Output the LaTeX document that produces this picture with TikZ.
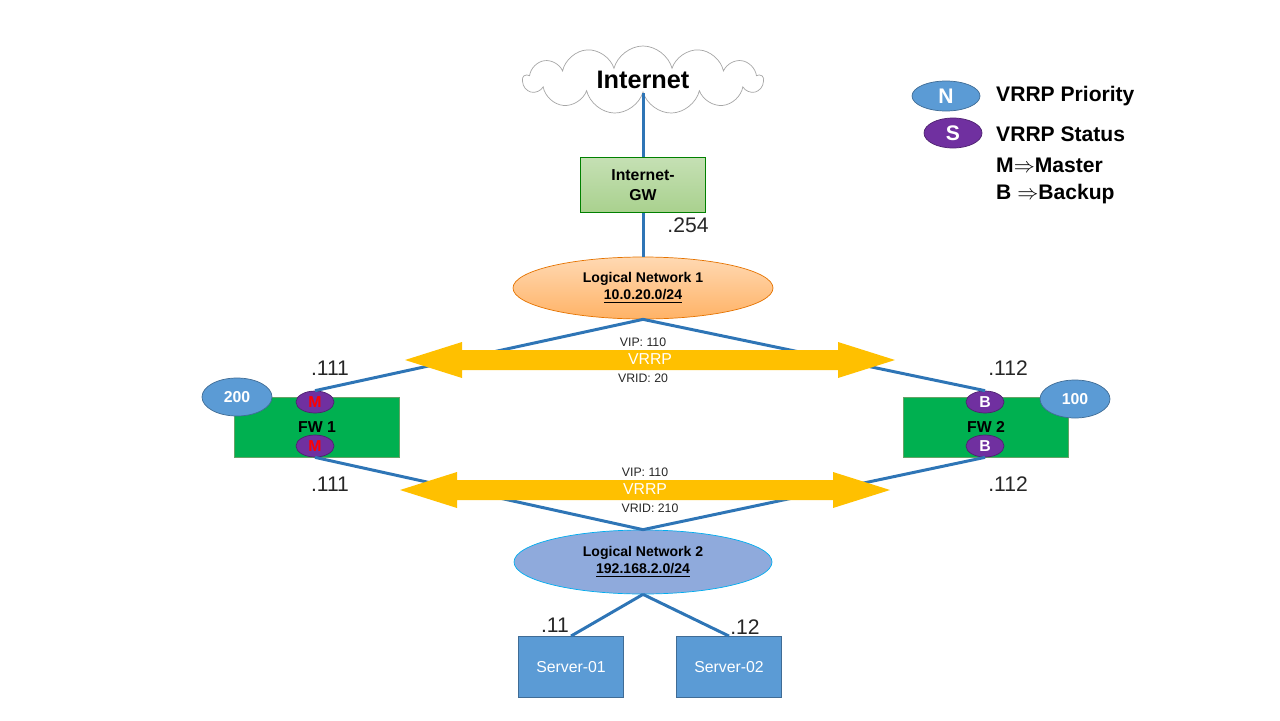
\documentclass[tikz,border=0pt]{standalone}
\usepackage{fontspec}
\setmainfont{Liberation Sans}
\usetikzlibrary{shapes.geometric,shapes.symbols}
\definecolor{linkblue}{HTML}{2E75B6}
\definecolor{vrrpgold}{HTML}{FFC000}
\definecolor{fwgreen}{HTML}{00B050}
\definecolor{prioblue}{HTML}{5B9BD5}
\definecolor{statpurple}{HTML}{7030A0}
\definecolor{gwtop}{HTML}{C5E0B4}
\definecolor{gwbot}{HTML}{A9D18E}
\definecolor{lnfill}{HTML}{8FAADC}
\tikzset{
  link/.style={draw=linkblue, line width=1.7pt},
  prio/.style={ellipse, fill=prioblue, draw=prioblue!70!black, line width=0.4pt, minimum width=70*0.02cm, minimum height=38*0.02cm, inner sep=0pt, text=white, font=\bfseries\small},
  stat/.style={ellipse, fill=statpurple, draw=statpurple!70!black, line width=0.4pt, minimum width=38*0.02cm, minimum height=22*0.02cm, inner sep=0pt, font=\bfseries\small},
  fw/.style={rectangle, fill=fwgreen, draw=green!40!black!60, line width=0.4pt, minimum width=165*0.02cm, minimum height=60*0.02cm, font=\bfseries\small},
  server/.style={rectangle, fill=prioblue, draw=prioblue!70!black, line width=0.5pt, minimum width=105*0.02cm, minimum height=61*0.02cm, text=white, font=\small},
  addr/.style={font=\large, text=black!85},
  vrrptxt/.style={font=\scriptsize, text=black!85},
  legend/.style={anchor=west, font=\bfseries\large},
}
\begin{document}
\begin{tikzpicture}[x=0.02cm, y=-0.02cm]
\useasboundingbox (0,0) rectangle (1280,720);
% cloud and gateway
\node[cloud, cloud puffs=13, aspect=3.6, draw=gray!70, fill=white, minimum width=240*0.02cm, minimum height=68*0.02cm, font=\bfseries\Large] (inet) at (643,80) {Internet};
\node[rectangle, top color=gwtop, bottom color=gwbot, draw=green!50!black, minimum width=125*0.02cm, minimum height=55*0.02cm, align=center, font=\bfseries\small] (gw) at (643,185) {Internet-\\GW};
\node[ellipse, top color=orange!30!white, bottom color=orange!60!white, draw=orange!90!black, minimum width=260*0.02cm, minimum height=62*0.02cm, align=center, font=\bfseries\footnotesize] (ln1) at (643,288) {Logical Network 1\\\underline{10.0.20.0/24}};
\node[ellipse, fill=lnfill, draw=cyan, minimum width=258*0.02cm, minimum height=64*0.02cm, align=center, font=\bfseries\footnotesize] (ln2) at (643,562) {Logical Network 2\\\underline{192.168.2.0/24}};
\draw[link] (inet) -- (gw);
\draw[link] (gw) -- (ln1);
\node[addr] (a254) at (688,225) {.254};
% firewalls
\node[fw] (fw1) at (317,427) {FW 1};
\node[fw] (fw2) at (986,427) {FW 2};
\node[stat, text=red] (m1) at (315,402) {M};
\node[stat, text=red] (m2) at (315,446) {M};
\node[stat, text=white] (b1) at (985,402) {B};
\node[stat, text=white] (b2) at (985,446) {B};
\node[prio] (p200) at (237,397) {200};
\node[prio] (p100) at (1075,399) {100};
\draw[link] (ln1.south) -- (m1.north);
\draw[link] (ln1.south) -- (b1.north);
\draw[link] (m2.south) -- (ln2.north);
\draw[link] (b2.south) -- (ln2.north);
% vrrp arrows
\fill[vrrpgold] (405,360) -- (462,342) -- (462,350) -- (838,350) -- (838,342) -- (895,360) -- (838,378) -- (838,370) -- (462,370) -- (462,378) -- cycle;
\fill[vrrpgold] (400,490) -- (457,472) -- (457,480) -- (833,480) -- (833,472) -- (890,490) -- (833,508) -- (833,500) -- (457,500) -- (457,508) -- cycle;
\node[vrrptxt] (vip1) at (643,342) {VIP: 110};
\node[font=\small, text=white] (vr1) at (650,359) {VRRP};
\node[vrrptxt] (vid1) at (643,378) {VRID: 20};
\node[vrrptxt] (vip2) at (645,472) {VIP: 110};
\node[font=\small, text=white] (vr2) at (645,489) {VRRP};
\node[vrrptxt] (vid2) at (650,508) {VRID: 210};
\node[addr] (a111u) at (330,368) {.111};
\node[addr] (a112u) at (1008,368) {.112};
\node[addr] (a111d) at (330,484) {.111};
\node[addr] (a112d) at (1008,484) {.112};
% servers
\node[server] (srv1) at (571,667) {Server-01};
\node[server] (srv2) at (729,667) {Server-02};
\draw[link] (ln2.south) -- (srv1.north);
\draw[link] (ln2.south) -- (srv2.north);
\node[addr] (a11) at (555,625) {.11};
\node[addr] (a12) at (745,627) {.12};
% legend
\node[prio, minimum width=68*0.02cm, minimum height=30*0.02cm, font=\bfseries\large] (lgn) at (946,96) {N};
\node[stat, minimum width=58*0.02cm, minimum height=30*0.02cm, text=white, font=\bfseries\large] (lgs) at (953,133) {S};
\node[legend] (lt1) at (990,96) {VRRP Priority};
\node[legend] (lt2) at (990,134) {VRRP Status};
\node[legend] (lt3) at (990,165) {M$\Rightarrow$Master};
\node[legend] (lt4) at (990,194) {B $\Rightarrow$Backup};
\end{tikzpicture}
\end{document}
